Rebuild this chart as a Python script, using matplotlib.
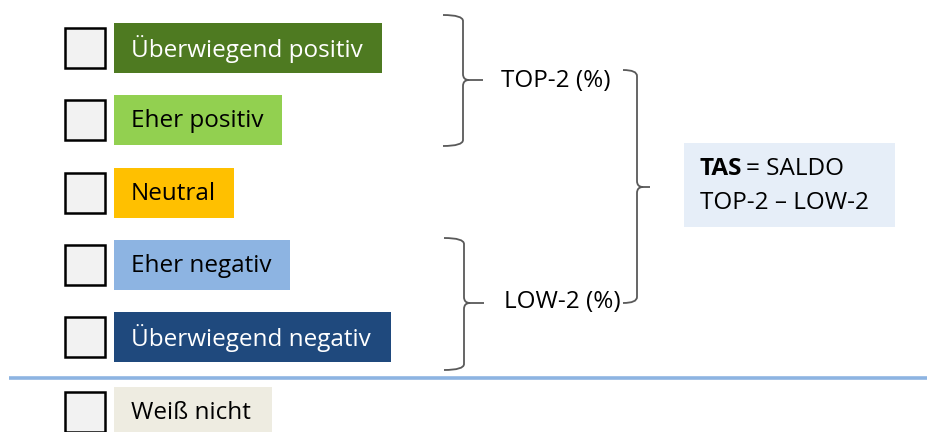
import matplotlib.pyplot as plt
from matplotlib.patches import Rectangle, PathPatch
from matplotlib.path import Path

plt.rcParams['font.family'] = ['Open Sans', 'DejaVu Sans']

# answer scale
answers = ["Überwiegend positiv", "Eher positiv", "Neutral", "Eher negativ",
           "Überwiegend negativ", "Weiß nicht"]
box_colors = ["#4e7a21", "#92d050", "#ffc000", "#8db4e2", "#1f497d", "#eeece1"]
text_colors = ["white", "black", "black", "black", "white", "black"]
box_widths = [268, 168, 120, 176, 277, 158]
row_y = [48, 120, 193, 265, 337, 412]

group_labels = ["TOP-2 (%)", "LOW-2 (%)"]

fig = plt.figure(figsize=(9.28, 4.32), dpi=100)
ax = fig.add_axes([0, 0, 1, 1])
ax.set_xlim(0, 928)
ax.set_ylim(432, 0)
ax.axis("off")

edge = "#595959"
fs = 17.5

for i, label in enumerate(answers):
    y = row_y[i]
    # checkbox
    ax.add_patch(Rectangle((65, y - 20), 40, 40, facecolor="#f2f2f2",
                           edgecolor="black", lw=1.8, zorder=3))
    # coloured answer label
    ax.add_patch(Rectangle((114, y - 25), box_widths[i], 50,
                           facecolor=box_colors[i], edgecolor="none", zorder=2))
    ax.text(131, y + 1, label, color=text_colors[i], fontsize=fs,
            va="center", ha="left", zorder=4)

# separator before "Weiß nicht"
ax.plot([9, 928], [378, 378], color="#8db4e2", lw=2.6, solid_capstyle="butt")


def brace(x0, xv, y_top, y_tip, y_bot, x_tip):
    r = 6
    verts = [(x0, y_top), (xv, y_top), (xv, y_top + r),
             (xv, y_tip - r), (xv, y_tip), (xv + r, y_tip),
             (x_tip, y_tip),
             (xv + r, y_tip), (xv, y_tip), (xv, y_tip + r),
             (xv, y_bot - r), (xv, y_bot), (x0, y_bot)]
    codes = [Path.MOVETO, Path.CURVE3, Path.CURVE3,
             Path.LINETO, Path.CURVE3, Path.CURVE3,
             Path.LINETO,
             Path.MOVETO, Path.CURVE3, Path.CURVE3,
             Path.LINETO, Path.CURVE3, Path.CURVE3]
    ax.add_patch(PathPatch(Path(verts, codes), facecolor="none",
                           edgecolor=edge, lw=1.3, zorder=3))


brace(443, 463, 15, 80, 146, 483)
brace(444, 464, 238, 303, 370, 484)
brace(623, 637, 70, 187, 303, 650)

ax.text(501, 81, group_labels[0], fontsize=fs, va="center", ha="left")
ax.text(504, 302, group_labels[1], fontsize=fs, va="center", ha="left")

# TAS box
ax.add_patch(Rectangle((684, 143), 211, 84, facecolor="#e6eef8",
                       edgecolor="none", zorder=2))
tas = ax.text(700, 169, "TAS", fontsize=fs, fontweight="bold", va="center",
              ha="left", zorder=4)
fig.canvas.draw()
bb = tas.get_window_extent()
x_end = ax.transData.inverted().transform((bb.x1, bb.y0))[0]
ax.text(x_end + 4, 169, "= SALDO", fontsize=fs, va="center", ha="left",
        zorder=4)
ax.text(700, 203, "TOP-2 – LOW-2", fontsize=fs, va="center", ha="left",
        zorder=4)

fig.savefig("out.png", dpi=100)
